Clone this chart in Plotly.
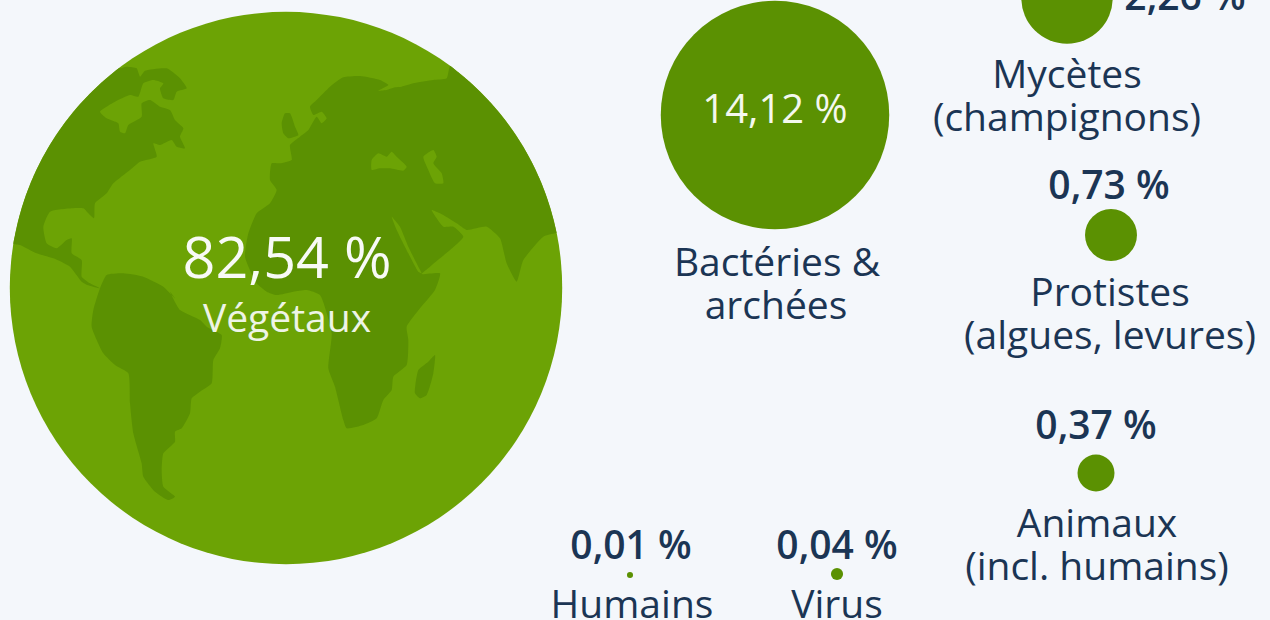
import math
import plotly.graph_objects as go

# ---- data ----
shares = [82.54, 14.12, 2.26, 0.73, 0.37, 0.04, 0.01]
name_lines = ["Végétaux", "Bactéries &", "archées", "Mycètes", "(champignons)", "Protistes", "(algues, levures)",
              "Animaux", "(incl. humains)", "Virus", "Humains"]

# ---- layout of the bubbles (page-like pixel axes) ----
bubble_x = [286, 775, 1067, 1111, 1096, 837, 630]
bubble_y = [288, 115, -2, 235, 473, 574, 575]
value_x = [287, 775, 1185, 1109, 1096, 837, 631]
value_y = [264, 113, 0, 189, 429, 549, 549]
name_x = [287, 777, 776, 1067, 1067, 1110, 1110, 1097, 1097, 837, 632]
name_y = [322, 266, 309, 78, 121, 296, 339, 527, 570, 608, 608]

LIGHT = "#6ca305"
DARK = "#5b9102"
INK = "#1b3554"
BG = "#f4f7fb"
CX, CY, R = 286, 288, 276


def arc(p0, p1, n=24):
    a0 = math.atan2(p0[1] - CY, p0[0] - CX)
    a1 = math.atan2(p1[1] - CY, p1[0] - CX)
    if a1 - a0 > math.pi:
        a1 -= 2 * math.pi
    if a1 - a0 < -math.pi:
        a1 += 2 * math.pi
    return [(CX + R * math.cos(a0 + (a1 - a0) * i / n), CY + R * math.sin(a0 + (a1 - a0) * i / n)) for i in range(n + 1)]


def z1(pts):
    return [(x / 3, y / 3) for x, y in pts]


def z2(pts):
    return [(280 + x / 3, y / 3) for x, y in pts]


def z3(pts):
    return [(x / 3, 290 + y / 3) for x, y in pts]


def z4(pts):
    return [(280 + x / 3, 290 + y / 3) for x, y in pts]


north_america = z1([(360, 205), (380, 200), (410, 205), (420, 230), (435, 212), (500, 205), (540, 235), (560, 265),
                    (530, 275), (520, 300), (490, 295), (480, 265), (490, 250), (460, 240), (430, 250), (415, 290),
                    (390, 285), (345, 305), (300, 335), (320, 355), (355, 370), (360, 395), (375, 400), (385, 375),
                    (425, 350), (425, 310), (450, 300), (480, 320), (510, 330), (525, 360), (550, 385), (540, 410),
                    (555, 445), (530, 440), (515, 420), (480, 435), (460, 430), (470, 470), (420, 485), (390, 510),
                    (340, 550), (320, 580), (285, 610), (282, 655), (265, 640), (250, 625), (215, 625), (150, 635),
                    (130, 680), (140, 730), (170, 745), (200, 720), (215, 715), (215, 760), (245, 780), (245, 830),
                    (270, 850), (300, 865), (262, 855), (245, 845), (210, 800), (160, 775), (110, 760), (60, 735)])
north_america += arc(north_america[-1], north_america[0])

eurasia_africa = (
    z2([(500, 235), (460, 240), (400, 250), (365, 260), (345, 262), (320, 270), (295, 272), (325, 255), (300, 240),
        (240, 228), (190, 232), (150, 260), (110, 300), (90, 320), (100, 345), (125, 335), (140, 355), (125, 370),
        (110, 350), (85, 390), (60, 410), (30, 435), (35, 480), (0, 490)])
    + z1([(815, 490), (810, 540), (830, 570), (810, 610), (770, 640), (745, 700), (735, 770), (770, 850)])
    + z3([(800, 5), (830, 15), (880, 5)])
    + z4([(80, 0), (120, 15), (155, 130), (145, 235), (165, 290), (190, 390), (200, 415), (250, 405), (290, 385),
          (310, 330), (335, 300), (340, 260), (380, 225), (385, 150), (380, 110), (420, 55), (465, 0)])
    + z2([(480, 820), (425, 822), (450, 800), (480, 775), (550, 710), (520, 680), (490, 680), (455, 630), (480, 640),
          (530, 670), (560, 690), (620, 680), (660, 715), (680, 790), (710, 845), (730, 780), (790, 710), (825, 700)])
)
eurasia_africa += arc(eurasia_africa[-1], z2([(500, 212)])[0])

uk = z2([(15, 340), (30, 340), (45, 380), (55, 405), (25, 415), (10, 400), (5, 370)])
south_america = (z1([(300, 865), (320, 825), (370, 820), (430, 830), (490, 860), (525, 895)])
                 + z3([(510, 5), (540, 60), (600, 90), (620, 110), (665, 135), (660, 175), (640, 210), (635, 280),
                       (600, 305), (575, 325), (570, 370), (545, 415), (525, 425), (525, 455), (490, 490), (485, 540),
                       (490, 590), (525, 620), (505, 630), (465, 605), (430, 560), (425, 520), (400, 430), (390, 340),
                       (385, 250), (345, 225), (310, 190), (275, 110), (280, 60)]))
madagascar = z4([(465, 195), (460, 250), (440, 315), (420, 325), (405, 310), (415, 240), (445, 215)])

black_sea = z2([(275, 510), (275, 480), (295, 460), (320, 470), (335, 455), (350, 470), (380, 500), (370, 512),
                (330, 505), (300, 505)])
caspian = z2([(430, 470), (460, 450), (470, 470), (460, 490), (485, 520), (490, 550), (465, 550), (445, 510)])
red_sea = z2([(335, 650), (360, 680), (385, 740), (415, 800), (425, 820), (415, 815), (385, 760), (350, 690)])

fig = go.Figure()

# bubbles: area is proportional to the share
fig.add_trace(go.Scatter(
    x=bubble_x, y=bubble_y, mode="markers", hoverinfo="skip",
    marker=dict(size=shares, sizemode="area", sizeref=0.000541, sizemin=1,
                color=[LIGHT] + [DARK] * 6, line=dict(width=0), opacity=1),
))


def land(pts, color):
    fig.add_trace(go.Scatter(
        x=[p[0] for p in pts] + [pts[0][0]], y=[p[1] for p in pts] + [pts[0][1]],
        mode="lines", fill="toself", fillcolor=color,
        line=dict(width=0, color=color, shape="spline", smoothing=0.5), hoverinfo="skip",
    ))


for shape in (north_america, eurasia_africa, uk, south_america, madagascar):
    land(shape, DARK)
for shape in (black_sea, caspian, red_sea):
    land(shape, LIGHT)

value_text = [f"{v:.2f}".replace(".", ",") + " %" for v in shares]
fig.add_trace(go.Scatter(
    x=value_x, y=value_y, mode="text", text=value_text, hoverinfo="skip",
    textposition="middle center",
    textfont=dict(family="Open Sans", size=[57.5, 40, 39, 39, 39, 39, 39],
                  color=["#f8faf6", "#f4f8ee"] + [INK] * 5,
                  weight=[400, 400, 600, 600, 600, 600, 600]),
))
fig.add_trace(go.Scatter(
    x=name_x, y=name_y, mode="text", text=name_lines, hoverinfo="skip",
    textposition="middle center",
    textfont=dict(family="Open Sans", size=39,
                  color=["#eef4e6"] + [INK] * 10),
))

fig.update_layout(
    width=1270, height=620, margin=dict(l=0, r=0, t=0, b=0), showlegend=False,
    paper_bgcolor=BG, plot_bgcolor=BG,
    xaxis=dict(range=[0, 1270], visible=False, fixedrange=True),
    yaxis=dict(range=[620, 0], visible=False, fixedrange=True),
)
fig.write_html("out.html", config={"displayModeBar": False},
               post_script=f"document.body.style.margin='0';document.body.style.background='{BG}';")
